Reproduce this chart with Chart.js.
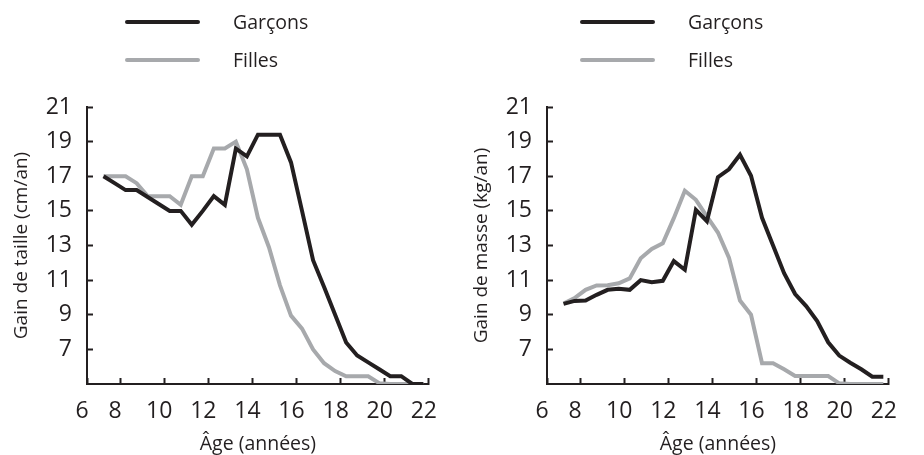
<!DOCTYPE html>
<html lang="fr">
<head>
<meta charset="utf-8">
<script src="https://cdn.jsdelivr.net/npm/chart.js@4.4.1/dist/chart.umd.min.js"></script>
<style>
  body { margin: 0; background: #fff; font-family: 'Open Sans', sans-serif; color: #231f20; }
  #wrap { position: relative; width: 924px; height: 455px; }
  .box { position: absolute; top: 0; width: 462px; height: 455px; }
  .legend { position: absolute; top: 0; }
  .legend-row { position: absolute; left: 0; display: flex; align-items: center; white-space: nowrap; }
  .legend-line { width: 75px; height: 4px; border-radius: 2px; margin-right: 33px; }
  .legend-text { font-size: 19.5px; line-height: 24px; }
</style>
</head>
<body>
<div id="wrap">
  <div class="box" style="left:0"><canvas id="chartTaille"></canvas></div>
  <div class="box" style="left:460px"><canvas id="chartMasse"></canvas></div>
  <div class="legend" id="legendTaille" style="left:125px"></div>
  <div class="legend" id="legendMasse" style="left:580px"></div>
</div>
<script>
const ages = [7.25, 7.75, 8.25, 8.75, 9.25, 9.75, 10.25, 10.75, 11.25, 11.75,
  12.25, 12.75, 13.25, 13.75, 14.25, 14.75, 15.25, 15.75, 16.25, 16.75,
  17.25, 17.75, 18.25, 18.75, 19.25, 19.75, 20.25, 20.75, 21.25, 21.75];

const tailleGarcons = [17.0, 16.6, 16.2, 16.2, 15.8, 15.4, 15.0, 15.0, 14.2, 15.0,
  15.85, 15.35, 18.6, 18.15, 19.4, 19.4, 19.4, 17.8, 15.0, 12.15,
  10.6, 9.0, 7.4, 6.65, 6.25, 5.85, 5.45, 5.45, 5.0, 5.0];
const tailleFilles = [17.0, 17.0, 17.0, 16.6, 15.85, 15.85, 15.85, 15.35, 17.0, 17.0,
  18.6, 18.6, 19.0, 17.4, 14.6, 12.9, 10.7, 8.95, 8.2, 7.0,
  6.2, 5.75, 5.45, 5.45, 5.45, 5.05, 5.0, 5.0, 5.0, 5.0];

const masseGarcons = [9.63, 9.8, 9.82, 10.15, 10.44, 10.5, 10.44, 11.0, 10.88, 10.96,
  12.1, 11.6, 15.06, 14.4, 16.95, 17.4, 18.24, 17.03, 14.6, 13.0,
  11.4, 10.2, 9.5, 8.64, 7.41, 6.64, 6.23, 5.85, 5.42, 5.42];
const masseFilles = [9.65, 9.96, 10.44, 10.69, 10.7, 10.82, 11.1, 12.26, 12.8, 13.13,
  14.58, 16.16, 15.64, 14.68, 13.75, 12.3, 9.82, 9.0, 6.2, 6.2,
  5.85, 5.46, 5.46, 5.46, 5.46, 5.04, 5.0, 5.0, 5.0, 5.0];

const seriesLabels = ['Garçons', 'Filles'];
const xTicks = [8, 10, 12, 14, 16, 18, 20, 22];
const xOriginLabel = '6';
const yTicks = [7, 9, 11, 13, 15, 17, 19, 21];

const INK = '#231f20';
const GREY = '#a7a9ac';
const FONT = "'Open Sans', sans-serif";

function points(values) {
  return ages.map((a, i) => ({ x: a, y: values[i] }));
}

function makeChart(id, boys, girls, yTitle, padRight) {
  return new Chart(document.getElementById(id), {
    type: 'line',
    data: {
      datasets: [
        { label: seriesLabels[0], data: points(boys), borderColor: INK },
        { label: seriesLabels[1], data: points(girls), borderColor: GREY }
      ]
    },
    options: {
      responsive: false,
      animation: false,
      events: [],
      layout: { padding: { top: 107, right: padRight, left: 0, bottom: 0 } },
      elements: {
        line: { borderWidth: 4, tension: 0, borderJoinStyle: 'miter' },
        point: { radius: 0 }
      },
      plugins: { legend: { display: false }, tooltip: { enabled: false } },
      scales: {
        x: {
          type: 'linear',
          min: 6.5,
          max: 22,
          // first label sits on the axis origin
          afterBuildTicks: (s) => {
            s.ticks = [{ value: s.min }].concat(xTicks.map(v => ({ value: v })));
          },
          afterFit: (s) => { s.height = 71; },
          border: { color: INK, width: 2 },
          grid: { drawOnChartArea: false, tickLength: -6, tickWidth: 2, color: INK },
          ticks: {
            padding: 20,
            labelOffset: -5,
            autoSkip: false,
            maxRotation: 0,
            color: INK,
            font: { family: FONT, size: 23 },
            callback: (v) => (v === 6.5 ? xOriginLabel : v)
          },
          title: {
            display: true,
            text: 'Âge (années)',
            color: INK,
            font: { family: FONT, size: 19.5 },
            padding: { top: 0, bottom: -1 }
          }
        },
        y: {
          min: 5,
          max: 21,
          afterBuildTicks: (s) => { s.ticks = yTicks.map(v => ({ value: v })); },
          afterFit: (s) => { s.width = 87; },
          border: { color: INK, width: 2 },
          grid: { drawOnChartArea: false, tickLength: -6, tickWidth: 2, color: INK },
          ticks: {
            padding: 21,
            color: INK,
            font: { family: FONT, size: 23 }
          },
          title: {
            display: true,
            text: yTitle,
            color: INK,
            font: { family: FONT, size: 19 },
            padding: { top: 10, bottom: 0 }
          }
        }
      }
    }
  });
}

function buildLegend(chart, el) {
  chart.data.datasets.forEach((ds, i) => {
    const row = document.createElement('div');
    row.className = 'legend-row';
    row.style.top = (10 + i * 38) + 'px';
    const line = document.createElement('span');
    line.className = 'legend-line';
    line.style.background = ds.borderColor;
    const txt = document.createElement('span');
    txt.className = 'legend-text';
    txt.textContent = ds.label;
    row.appendChild(line);
    row.appendChild(txt);
    el.appendChild(row);
  });
}

const canvasSize = (id) => {
  const c = document.getElementById(id);
  c.width = 462; c.height = 455;
};
canvasSize('chartTaille');
canvasSize('chartMasse');

const tailleChart = makeChart('chartTaille', tailleGarcons, tailleFilles, 'Gain de taille (cm/an)', 11);
const masseChart = makeChart('chartMasse', masseGarcons, masseFilles, 'Gain de masse (kg/an)', 14);

buildLegend(tailleChart, document.getElementById('legendTaille'));
buildLegend(masseChart, document.getElementById('legendMasse'));
</script>
</body>
</html>
